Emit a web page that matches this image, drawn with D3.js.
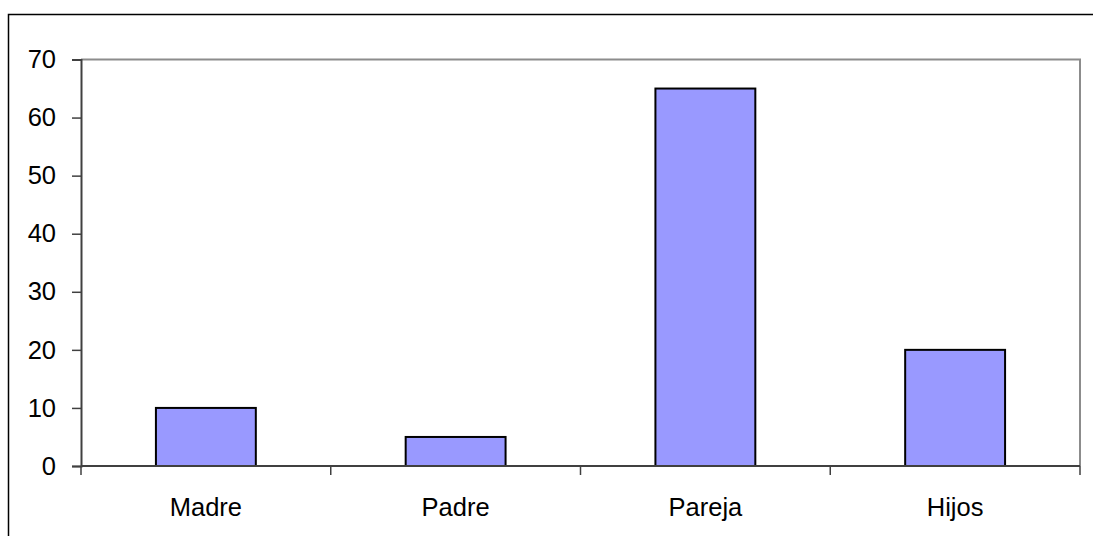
<!DOCTYPE html>
<html><head><meta charset="utf-8">
<script src="https://cdn.jsdelivr.net/npm/d3@7"></script>
<style>body{margin:0;background:#fff}svg{display:block}</style>
</head><body>
<script>
const categories = ["Madre", "Padre", "Pareja", "Hijos"];
const values = [10, 5, 65, 20];
const yTicks = [0, 10, 20, 30, 40, 50, 60, 70];

const W = 1093, H = 536;
const m = {left: 81, top: 59.5, right: 1080, bottom: 466};
const svg = d3.select("body").append("svg").attr("width", W).attr("height", H);

// outer frame
svg.append("rect").attr("x", 8.5).attr("y", 14.5).attr("width", 1200).attr("height", 700)
  .attr("fill", "none").attr("stroke", "#000").attr("stroke-width", 1.5);

const x = d3.scaleBand().domain(categories).range([m.left, m.right]).padding(0);
const y = d3.scaleLinear().domain([0, 70]).range([m.bottom, m.top]);

// plot area border top/right
svg.append("path").attr("d", `M${m.left},${m.top}H${m.right}V${m.bottom}`)
  .attr("fill", "none").attr("stroke", "#8c8c8c").attr("stroke-width", 2);

// bars
const bw = x.bandwidth() * 0.4;
svg.selectAll("rect.bar").data(values).enter().append("rect").attr("class", "bar")
  .attr("x", (d, i) => x(categories[i]) + (x.bandwidth() - bw) / 2)
  .attr("y", d => y(d))
  .attr("width", bw)
  .attr("height", d => y(0) - y(d))
  .attr("fill", "#9999ff").attr("stroke", "#000").attr("stroke-width", 2);

// y axis
const yAxis = d3.axisLeft(y).tickValues(yTicks).tickSize(9).tickPadding(16);
const gy = svg.append("g").attr("transform", `translate(${m.left},0)`).call(yAxis);
gy.select(".domain").attr("stroke", "#404040").attr("stroke-width", 2);
gy.selectAll(".tick line").attr("stroke", "#404040").attr("stroke-width", 1.5);
gy.selectAll(".tick text").attr("font-family", "Liberation Sans, Arial, sans-serif")
  .attr("font-size", 25.5).attr("fill", "#000");

// x axis
const gx = svg.append("g").attr("transform", `translate(0,${m.bottom})`);
gx.append("line").attr("x1", m.left).attr("x2", m.right).attr("y1", 0).attr("y2", 0)
  .attr("stroke", "#404040").attr("stroke-width", 2);
const bounds = categories.map(c => x(c)).concat([m.right]);
gx.selectAll("line.tk").data(bounds).enter().append("line").attr("class", "tk")
  .attr("x1", d => d).attr("x2", d => d).attr("y1", 0).attr("y2", 9)
  .attr("stroke", "#404040").attr("stroke-width", 1.5);
gx.selectAll("text").data(categories).enter().append("text")
  .attr("x", d => x(d) + x.bandwidth() / 2).attr("y", 50)
  .attr("text-anchor", "middle")
  .attr("font-family", "Liberation Sans, Arial, sans-serif")
  .attr("font-size", 25.5).attr("fill", "#000").text(d => d);
</script>
</body></html>
